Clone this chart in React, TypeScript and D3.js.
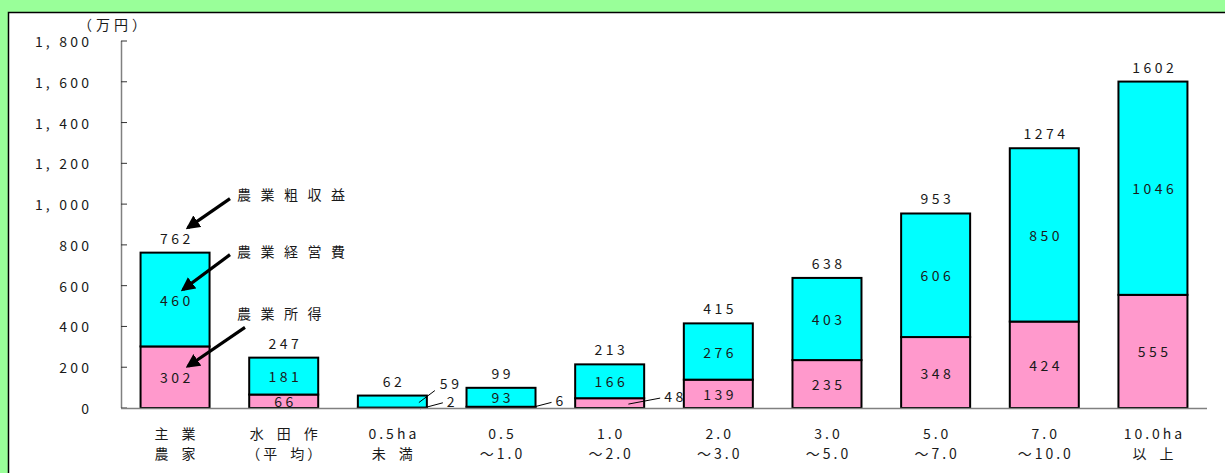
import React from "react";
import * as d3 from "d3";

// 経営規模別 農業粗収益・経営費・所得（万円）
const catLine1 = ["主 業", "水 田 作", "0.5ha", "0.5", "1.0", "2.0", "3.0", "5.0", "7.0", "10.0ha"];
const catLine2 = ["農 家", "（平 均）", "未 満", "～1.0", "～2.0", "～3.0", "～5.0", "～7.0", "～10.0", "以 上"];
const income = [302, 66, 2, 6, 48, 139, 235, 348, 424, 555]; // 農業所得
const expense = [460, 181, 59, 93, 166, 276, 403, 606, 850, 1046]; // 農業経営費
const gross = [762, 247, 62, 99, 213, 415, 638, 953, 1274, 1602]; // 農業粗収益
const yTicks = [0, 200, 400, 600, 800, 1000, 1200, 1400, 1600, 1800];
const seriesNames = ["農業粗収益", "農業経営費", "農業所得"];

const W = 1225;
const H = 473;
const FONT = "'Noto Sans CJK JP', 'Noto Sans', sans-serif";
const CYAN = "#00FFFF";
const PINK = "#FF99CC";
const TXT = "#1a1a1a";
const EN_SPACE = "\u2002";

function Spaced({ x, y, text, size = 14, ls = 3.5, anchor = "middle" }: any) {
  const dx = anchor === "middle" ? ls / 2 : anchor === "end" ? ls : 0;
  return (
    <text
      x={x + dx}
      y={y}
      fontSize={size}
      fontFamily={FONT}
      fill={TXT}
      textAnchor={anchor}
      dominantBaseline="central"
      letterSpacing={ls}
    >
      {String(text).replace(/ /g, EN_SPACE)}
    </text>
  );
}

export default function App() {
  const x = d3
    .scaleBand<number>()
    .domain(d3.range(gross.length))
    .range([121, 1207])
    .paddingInner(0.365)
    .paddingOuter(0.18);
  const y = d3.scaleLinear().domain([0, 1800]).range([408, 41]);
  const bw = x.bandwidth();
  const fmt = d3.format(",");

  // callout arrows pointing at the first bar's labels
  const f = 0;
  const fx = x(f)! + bw / 2;
  const textX = 237;
  const callouts = [
    { label: seriesNames[0], ty: y(gross[f]) - 59, sx: textX - 7, sdy: 5, tipX: fx + 13, tipY: y(gross[f]) - 25 },
    { label: seriesNames[1], ty: y(gross[f]) - 2, sx: textX - 7, sdy: 4, tipX: fx + 8, tipY: y(income[f] + expense[f] / 2) - 10 },
    { label: seriesNames[2], ty: y(income[f]) - 33, sx: textX + 8, sdy: 14, tipX: fx + 13, tipY: y(income[f] / 2) - 11 },
  ];

  return (
    <svg width={W} height={H} style={{ position: "absolute", left: 0, top: 0 }}>
      <defs>
        <marker id="ah" viewBox="0 0 10 10" refX="8" refY="5" markerWidth="4.4" markerHeight="4.4" orient="auto">
          <path d="M0,0 L10,5 L0,10 z" fill="#000" />
        </marker>
      </defs>
      <rect x={0} y={0} width={W} height={H} fill="#99FF99" />
      <rect x={8.5} y={12.5} width={W + 20} height={H + 20} fill="#fff" stroke="#000" strokeWidth={1.5} />

      {/* y axis */}
      <Spaced x={112} y={24} text="（万円）" size={14} ls={4} />
      <line x1={121.5} x2={121.5} y1={y(1800)} y2={y(0)} stroke="#808080" strokeWidth={1.5} />
      {yTicks.map((t) => (
        <g key={t}>
          <line x1={121} x2={127} y1={y(t)} y2={y(t)} stroke="#333" strokeWidth={1} />
          <text
            x={89}
            y={y(t)}
            fontSize={14}
            fontFamily={FONT}
            fill={TXT}
            textAnchor="end"
            dominantBaseline="central"
            letterSpacing={3.2}
            dx={3.2}
          >
            {t === 0 ? "0" : fmt(t).replace(",", ", ")}
          </text>
        </g>
      ))}

      {/* stacked bars */}
      {gross.map((g, i) => {
        const x0 = x(i)!;
        const yInc = y(income[i]);
        const yTop = y(income[i] + expense[i]);
        const cx = x0 + bw / 2;
        const right = x0 + bw;
        const pinkH = y(0) - yInc;
        const cyanH = yInc - yTop;
        const pinkMid = (y(0) + yInc) / 2;
        const cyanMid = (yInc + yTop) / 2;
        return (
          <g key={i}>
            <rect x={x0} y={yInc} width={bw} height={pinkH} fill={PINK} stroke="#000" strokeWidth={2} />
            <rect x={x0} y={yTop} width={bw} height={cyanH} fill={CYAN} stroke="#000" strokeWidth={2} />
            <Spaced x={cx} y={yTop - 15} text={String(g)} />
            {cyanH >= 13 ? (
              <Spaced x={cx} y={cyanMid} text={String(expense[i])} />
            ) : (
              <g>
                <line x1={right - 8} y1={cyanMid + 1} x2={right + 8} y2={cyanMid - 11} stroke="#000" strokeWidth={1} />
                <Spaced x={right + 13} y={cyanMid - 19} text={String(expense[i])} anchor="start" />
              </g>
            )}
            {pinkH >= 13 ? (
              <Spaced x={cx} y={pinkMid} text={String(income[i])} />
            ) : (
              <g>
                <line x1={right - 6 - pinkH} y1={pinkMid + 1} x2={right + 16} y2={pinkMid - 5} stroke="#000" strokeWidth={1} />
                <Spaced x={right + 20} y={pinkMid - 7} text={String(income[i])} anchor="start" />
              </g>
            )}
            <Spaced x={cx} y={433} text={catLine1[i]} size={14} ls={3} />
            <Spaced x={cx} y={453} text={catLine2[i]} size={14} ls={3} />
          </g>
        );
      })}
      <line x1={121} x2={1207} y1={y(0) + 0.5} y2={y(0) + 0.5} stroke="#808080" strokeWidth={1.5} />

      {/* series callouts */}
      {callouts.map((c) => (
        <g key={c.label}>
          <line
            x1={c.sx}
            y1={c.ty + c.sdy}
            x2={c.tipX}
            y2={c.tipY}
            stroke="#000"
            strokeWidth={3.2}
            markerEnd="url(#ah)"
          />
          <Spaced x={textX} y={c.ty} text={c.label} size={14} ls={9.5} anchor="start" />
        </g>
      ))}
    </svg>
  );
}
